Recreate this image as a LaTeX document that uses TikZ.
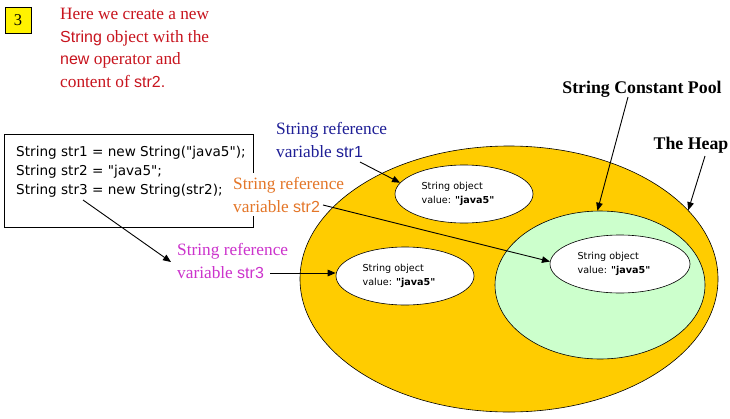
\documentclass[tikz,border=0pt]{standalone}
\usepackage{fontspec}
\setmainfont{Liberation Serif}
\newfontfamily\arialf{Liberation Sans}
\newfontfamily\gulimf{DejaVu Sans}
\usetikzlibrary{shapes.geometric,arrows.meta}
\definecolor{redtxt}{RGB}{200,20,30}
\definecolor{bluetxt}{RGB}{30,30,150}
\definecolor{orangetxt}{RGB}{228,118,40}
\definecolor{magtxt}{RGB}{204,51,204}
\definecolor{heapc}{RGB}{255,204,0}
\definecolor{poolc}{RGB}{204,255,204}
\newcommand\sansw[1]{{\arialf\fontsize{16}{22.7}\selectfont #1}}
\begin{document}
\begin{tikzpicture}[x=1pt,y=-1pt,
  numbox/.style={draw,fill=yellow,minimum width=26pt,minimum height=26pt,inner sep=0pt,font=\fontsize{16.5}{18}\selectfont},
  lbl/.style={inner sep=0pt,align=left,anchor=north west,font=\fontsize{17.3}{22.7}\selectfont},
  bigell/.style={ellipse,draw,line width=0.6pt,inner sep=0pt},
  obj/.style={ellipse,draw,fill=white,line width=0.6pt,inner sep=0pt,minimum width=138pt,minimum height=58pt,align=left,font=\gulimf\fontsize{9.6}{14}\selectfont},
  arr/.style={line width=0.9pt,-{Triangle[length=8pt,width=6.5pt]}},
  title/.style={font=\bfseries\fontsize{17.8}{20}\selectfont,inner sep=0pt}
]
\useasboundingbox[fill=white] (0,0) rectangle (730,418);

% step number and explanation
\node[numbox] (num) at (18,20) {3};
\node[lbl,text=redtxt] (expl) at (60,8) {Here we create a new\\
\sansw{String} object with the\\
\sansw{new} operator and\\
content of \sansw{str2.}};

% code box
\node[draw,line width=0.6pt,anchor=north west,minimum width=249pt,minimum height=93pt,inner sep=0pt] (code) at (4,134) {};
\node[inner sep=0pt,anchor=north west,align=left,font=\gulimf\fontsize{13.6}{19}\selectfont] (codetxt) at (16,146)
{String str1 = new String("java5");\\
String str2 = "java5";\\
String str3 = new String(str2);};

% label over the code box edge (drawn before the heap so the heap edge stays whole)
\node[lbl,text=orangetxt,fill=white,inner xsep=0pt,inner ysep=4pt] (lab2) at (233,173) {String reference\\variable \sansw{str2}};

% heap and pool
\node[bigell,fill=heapc,minimum width=418pt,minimum height=266pt] (heap) at (509,279) {};
\node[bigell,fill=poolc,minimum width=210pt,minimum height=148pt] (pool) at (600,285) {};

% string objects
\node[obj] (obj1) at (464,194) {String object\\value: \textbf{"java5"}\hspace*{12pt}};
\node[obj,minimum width=140pt] (obj2) at (620,264) {String object\\value: \textbf{"java5"}\hspace*{12pt}};
\node[obj] (obj3) at (405,276) {String object\\value: \textbf{"java5"}\hspace*{12pt}};

% labels
\node[lbl,text=bluetxt] (lab1) at (276,122) {String reference\\variable \sansw{str1}};
\node[lbl,text=magtxt] (lab3) at (177,243) {String reference\\variable \sansw{str3}};
\node[title] (pooltitle) at (642,89) {String Constant Pool};
\node[title] (heaptitle) at (691,145) {The Heap};

% connector end points
\coordinate (c3) at (83,200);
\coordinate (l3in) at (171,262);
\coordinate (s1) at (360,162);
\coordinate (s2) at (323,205);
\coordinate (s3) at (270,273);
\coordinate (sp) at (628,97);
\coordinate (sh) at (705,156);

% connectors
\draw[arr] (c3) -- (l3in);
\draw[arr] (s1) -- (obj1.170);
\draw[arr] (s2) -- (obj2.178);
\draw[arr] (s3) -- (s3 -| obj3.west);
\draw[arr] (sp) -- (pool.92);
\draw[arr] (sh) -- (heap.21);
\end{tikzpicture}
\end{document}
